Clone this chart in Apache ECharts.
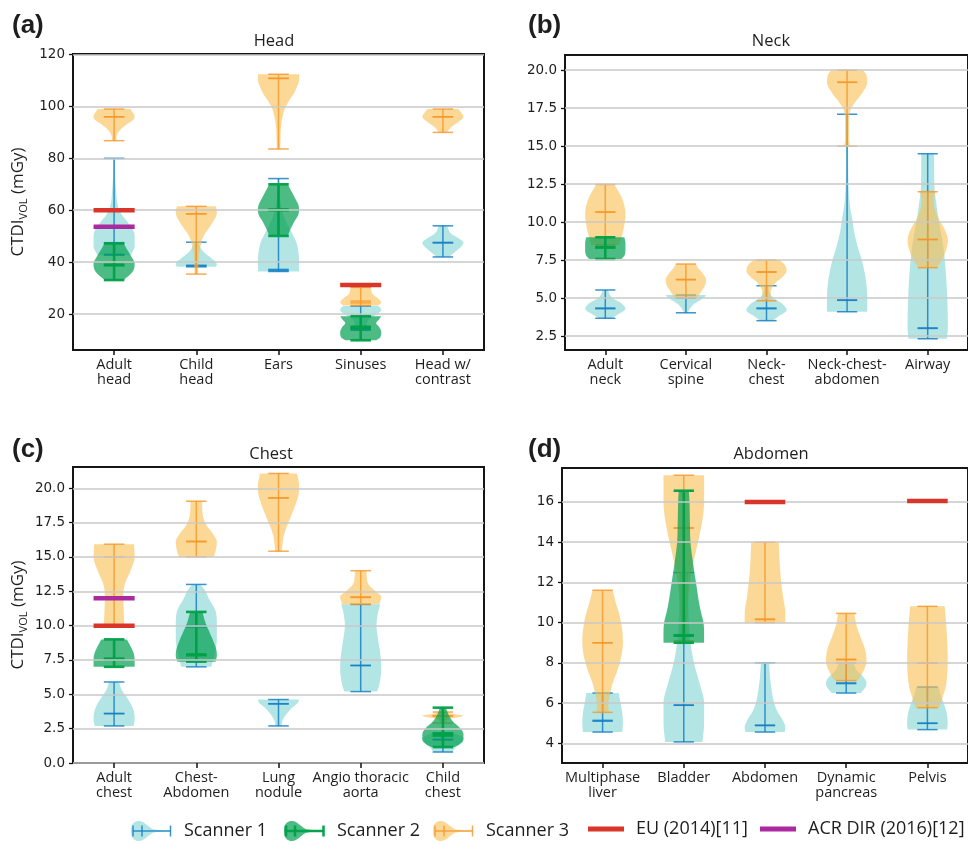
<!DOCTYPE html>
<html>
<head>
<meta charset="utf-8">
<script src="https://cdn.jsdelivr.net/npm/echarts@6/dist/echarts.min.js"></script>
<style>
  html, body { margin: 0; padding: 0; background: #ffffff; }
  #chart { width: 968px; height: 845px; }
</style>
</head>
<body>
<div id="chart"></div>
<script>
// ---------------- categories ----------------
const headCategories = ['Adult\nhead', 'Child\nhead', 'Ears', 'Sinuses', 'Head w/\ncontrast'];
const neckCategories = ['Adult\nneck', 'Cervical\nspine', 'Neck-\nchest', 'Neck-chest-\nabdomen', 'Airway'];
const chestCategories = ['Adult\nchest', 'Chest-\nAbdomen', 'Lung\nnodule', 'Angio thoracic\naorta', 'Child\nchest'];
const abdomenCategories = ['Multiphase\nliver', 'Bladder', 'Abdomen', 'Dynamic\npancreas', 'Pelvis'];

// ---------------- tick values ----------------
const headTicks = [20, 40, 60, 80, 100, 120];
const neckTicks = [2.5, 5, 7.5, 10, 12.5, 15, 17.5, 20];
const chestTicks = [0, 2.5, 5, 7.5, 10, 12.5, 15, 17.5, 20];
const abdomenTicks = [4, 6, 8, 10, 12, 14, 16];

// ---------------- violins ----------------
// each row: [category index, min, max, mean, median, density outline [value, relative half-width]]
const headScanner1 = [
  [0, 42.7, 80.0, 47.5, 43.0, [[42.7, 0.8], [44, 0.9], [46, 1], [49, 1], [52, 0.95], [55, 0.7], [58, 0.4], [60, 0.25], [63, 0.15], [67, 0.1], [72, 0.06], [80, 0.04]]],
  [1, 38.2, 47.7, 38.8, 38.5, [[38.2, 0.95], [39, 1], [40, 0.95], [42, 0.65], [44, 0.35], [46, 0.18], [47.7, 0.1]]],
  [2, 36.4, 72.2, 37.2, 36.8, [[36.4, 1], [40, 1], [45, 0.95], [48, 0.85], [52, 0.6], [55, 0.4], [58, 0.25], [62, 0.12], [66, 0.06], [72.2, 0.04]]],
  [3, 13.8, 23.1, 14.5, 14.0, [[13.8, 0.3], [16, 0.3], [18, 0.4], [20, 0.8], [21.5, 1], [22.5, 0.95], [23.1, 0.85]]],
  [4, 42.0, 54.0, 47.6, 47.4, [[42, 0.3], [44, 0.6], [46.5, 0.95], [47.5, 1], [49, 0.8], [51, 0.4], [54, 0.2]]]
];
const headScanner2 = [
  [0, 33.1, 47.2, 38.8, 39.0, [[33.1, 0.45], [35, 0.75], [37, 0.95], [39.5, 1], [42, 0.85], [44, 0.7], [46, 0.55], [47.2, 0.48]]],
  [2, 50.1, 70.0, 60.3, 60.0, [[50.1, 0.45], [53, 0.6], [56, 0.8], [58, 0.95], [60, 1], [62, 0.97], [64, 0.85], [67, 0.65], [70, 0.45]]],
  [3, 9.9, 19.2, 15.1, 14.8, [[9.9, 0.75], [11, 0.95], [13, 1], [15, 0.9], [16.5, 0.75], [18, 0.9], [19.2, 1]]]
];
const headScanner3 = [
  [0, 86.8, 99.0, 96.0, 96.0, [[86.8, 0.1], [89, 0.14], [91, 0.3], [93, 0.6], [95, 0.95], [96, 1], [97, 0.97], [98, 0.88], [99, 0.8]]],
  [1, 35.4, 61.5, 58.6, 58.6, [[35.4, 0.08], [38, 0.1], [42, 0.12], [46, 0.2], [50, 0.35], [53, 0.6], [56, 0.85], [59, 1], [61.5, 0.95]]],
  [2, 83.6, 112.4, 110.8, 110.8, [[83.6, 0.08], [88, 0.1], [92, 0.12], [96, 0.2], [99, 0.3], [102, 0.5], [105, 0.75], [108, 0.92], [110, 1], [112.4, 1]]],
  [3, 23.3, 30.3, 25.0, 24.3, [[23.3, 0.85], [24.5, 1], [26, 0.85], [27.5, 0.6], [29, 0.52], [30.3, 0.5]]],
  [4, 90.0, 99.0, 96.0, 96.0, [[90, 0.2], [92, 0.4], [94, 0.75], [96, 1], [97.5, 0.9], [99, 0.75]]]
];

const neckScanner1 = [
  [0, 3.67, 5.53, 4.34, 4.3, [[3.67, 0.3], [3.9, 0.6], [4.3, 1], [4.7, 0.75], [5.0, 0.35], [5.53, 0.12]]],
  [1, 4.03, 5.2, 5.0, 5.0, [[4.03, 0.1], [4.3, 0.2], [4.6, 0.4], [4.9, 0.75], [5.1, 0.95], [5.2, 1]]],
  [2, 3.51, 5.81, 4.34, 4.3, [[3.51, 0.3], [3.8, 0.6], [4.2, 1], [4.6, 0.8], [5.0, 0.35], [5.5, 0.12], [5.81, 0.1]]],
  [3, 4.1, 17.1, 4.87, 4.85, [[4.1, 1], [5, 1], [6, 0.95], [7, 0.82], [7.5, 0.73], [8.5, 0.5], [9.5, 0.33], [10, 0.28], [11, 0.15], [12.5, 0.07], [15, 0.05], [17.1, 0.05]]],
  [4, 2.32, 14.5, 3.03, 3.0, [[2.32, 0.95], [3, 1], [5, 0.97], [7.5, 0.85], [9, 0.7], [10, 0.56], [11, 0.45], [12.5, 0.33], [14.5, 0.32]]]
];
const neckScanner2 = [
  [0, 7.57, 9.0, 8.33, 8.35, [[7.57, 0.8], [7.8, 0.95], [8.2, 1], [8.6, 1], [9.0, 0.95]]]
];
const neckScanner3 = [
  [0, 8.5, 12.48, 10.66, 10.66, [[8.5, 0.7], [9.5, 0.9], [10.5, 1], [11.5, 0.85], [12.48, 0.45]]],
  [1, 5.02, 7.24, 6.23, 6.2, [[5.02, 0.55], [5.4, 0.75], [5.9, 0.97], [6.2, 1], [6.6, 0.85], [7.0, 0.6], [7.24, 0.5]]],
  [2, 4.82, 7.5, 6.73, 6.7, [[4.82, 0.25], [5.2, 0.2], [5.6, 0.25], [6.0, 0.45], [6.4, 0.8], [6.8, 1], [7.2, 0.9], [7.5, 0.65]]],
  [3, 15.0, 20.0, 19.21, 19.2, [[15, 0.15], [15.5, 0.1], [16.5, 0.1], [17.3, 0.15], [17.8, 0.35], [18.5, 0.75], [19.2, 1], [19.7, 0.95], [20, 0.8]]],
  [4, 7.0, 12.0, 8.86, 8.85, [[7.0, 0.45], [7.5, 0.7], [8.2, 0.92], [8.8, 1], [9.5, 0.85], [10.2, 0.55], [11, 0.33], [11.5, 0.3], [12, 0.4]]]
];

const chestScanner1 = [
  [0, 2.7, 5.9, 3.6, 3.6, [[2.7, 0.95], [3.2, 1], [3.7, 0.97], [4.2, 0.85], [4.7, 0.65], [5.2, 0.42], [5.6, 0.3], [5.9, 0.25]]],
  [1, 7.0, 13.0, 10.0, 9.9, [[7, 0.73], [8, 0.9], [9, 1], [10, 1], [11, 0.95], [12, 0.6], [12.5, 0.45], [13, 0.2]]],
  [2, 2.7, 4.62, 4.32, 4.3, [[2.7, 0.15], [3.1, 0.2], [3.5, 0.36], [4.0, 0.65], [4.4, 0.95], [4.62, 1]]],
  [3, 5.2, 11.55, 7.1, 7.1, [[5.2, 0.8], [5.8, 0.92], [7, 1], [8, 0.95], [9, 0.85], [10, 0.77], [11, 0.85], [11.55, 0.95]]],
  [4, 0.8, 2.2, 1.72, 1.68, [[0.8, 0.45], [1.1, 0.6], [1.5, 0.9], [1.8, 1], [2.0, 0.8], [2.2, 0.5]]]
];
const chestScanner2 = [
  [0, 7.0, 9.0, 7.6, 7.55, [[7, 1], [7.5, 1], [8, 0.95], [8.5, 0.8], [9, 0.62]]],
  [1, 7.38, 11.0, 7.9, 7.85, [[7.38, 0.93], [7.8, 1], [8.2, 0.98], [8.8, 0.85], [9.5, 0.65], [10.2, 0.45], [11, 0.3]]],
  [4, 1.16, 4.03, 2.14, 2.0, [[1.16, 0.55], [1.3, 0.75], [1.7, 1], [2.1, 1], [2.6, 0.8], [3.0, 0.5], [3.5, 0.28], [4.03, 0.15]]]
];
const chestScanner3 = [
  [0, 10.0, 15.93, 12.0, 15.0, [[10, 0.5], [11, 0.47], [12, 0.45], [13, 0.52], [14, 0.8], [15, 1], [15.93, 0.97]]],
  [1, 15.0, 19.06, 16.15, 16.1, [[15, 0.85], [15.5, 0.95], [16.1, 1], [16.7, 0.8], [17.3, 0.5], [18, 0.32], [19.06, 0.28]]],
  [2, 15.42, 21.08, 19.3, 19.3, [[15.42, 0.16], [16, 0.2], [16.5, 0.25], [17, 0.35], [17.5, 0.48], [18.5, 0.75], [19.5, 0.97], [20.2, 1], [21.08, 0.9]]],
  [3, 11.55, 14.0, 12.09, 12.05, [[11.55, 0.9], [12.1, 1], [12.5, 0.72], [13, 0.38], [13.5, 0.3], [14, 0.28]]],
  [4, 2.91, 3.71, 3.4, 3.45, [[2.91, 0.12], [3.2, 0.3], [3.35, 0.8], [3.45, 1], [3.55, 0.6], [3.71, 0.2]]]
];

const abdomenScanner1 = [
  [0, 4.56, 6.5, 5.14, 5.1, [[4.56, 0.97], [5.0, 1], [5.5, 0.97], [6.0, 0.88], [6.5, 0.8]]],
  [1, 4.07, 12.49, 5.89, 5.9, [[4.07, 0.92], [5, 1], [6, 1], [7, 0.77], [8, 0.5], [9, 0.33], [10, 0.25], [11, 0.22], [12.49, 0.22]]],
  [2, 4.56, 8.0, 4.9, 4.88, [[4.56, 0.97], [4.8, 1], [5.2, 0.85], [5.6, 0.6], [6, 0.45], [7, 0.28], [8, 0.2]]],
  [3, 6.5, 8.0, 6.97, 7.0, [[6.5, 0.72], [6.8, 0.95], [7.0, 1], [7.3, 0.85], [7.6, 0.55], [8, 0.35]]],
  [4, 4.68, 6.8, 4.99, 5.0, [[4.68, 0.97], [5.0, 1], [5.5, 0.95], [6, 0.8], [6.4, 0.65], [6.8, 0.55]]]
];
const abdomenScanner2 = [
  [1, 9.0, 16.56, 9.37, 9.35, [[9.0, 1], [9.5, 1], [10, 0.97], [10.5, 0.85], [11, 0.75], [12, 0.6], [13, 0.45], [14, 0.33], [15, 0.3], [16, 0.28], [16.56, 0.25]]]
];
const abdomenScanner3 = [
  [0, 5.54, 11.61, 9.0, 9.0, [[5.54, 0.3], [6, 0.28], [6.5, 0.38], [7, 0.5], [7.6, 0.72], [8.3, 0.92], [9, 1], [9.6, 0.97], [10.3, 0.85], [11, 0.65], [11.61, 0.5]]],
  [1, 9.1, 17.33, 14.71, 14.7, [[9.1, 0.15], [10, 0.15], [11, 0.2], [12, 0.3], [12.8, 0.43], [14, 0.7], [15, 0.9], [16, 1], [17.33, 1]]],
  [2, 10.0, 14.0, 10.18, 10.15, [[10, 1], [10.5, 1], [11.2, 0.9], [12, 0.8], [13, 0.72], [14, 0.68]]],
  [3, 7.12, 10.46, 8.18, 8.15, [[7.12, 0.57], [7.5, 0.8], [8.1, 1], [8.7, 0.92], [9.3, 0.7], [9.9, 0.5], [10.46, 0.4]]],
  [4, 5.77, 10.81, 7.98, 8.0, [[5.77, 0.58], [6.2, 0.72], [6.8, 0.9], [7.5, 0.98], [8.3, 1], [9.2, 0.97], [10, 0.92], [10.81, 0.85]]]
];

// ---------------- reference levels: [category index, CTDIvol] ----------------
const headEU = [[0, 60], [3, 31.2]];
const headACR = [[0, 53.6]];
const chestEU = [[0, 10]];
const chestACR = [[0, 12]];
const abdomenEU = [[2, 16], [4, 16.05]];

// ---------------- styling ----------------
const scannerNames = ['Scanner 1', 'Scanner 2', 'Scanner 3'];
const scannerStyles = [
  { fill: 'rgba(64,191,191,0.4)', line: 'rgba(22,128,196,0.85)', width: 1.5 },
  { fill: 'rgba(0,160,80,0.7)', line: 'rgba(0,160,72,0.95)', width: 2.6 },
  { fill: 'rgba(250,190,80,0.6)', line: 'rgba(245,150,40,0.8)', width: 1.5 }
];
const euName = 'EU (2014)[11]';
const acrName = 'ACR DIR (2016)[12]';
const euColor = '#d9352a';
const acrColor = '#ab2aa0';
const textColor = '#1e1e1e';
const uiFont = 'Open Sans';

// monotone cubic resampling of a violin outline
function sampleShape(shape, steps) {
  const n = shape.length;
  const xs = shape.map(p => p[0]);
  const ys = shape.map(p => p[1]);
  if (n < 2) return shape.slice();
  const d = [];
  for (let i = 0; i < n - 1; i++) d.push((ys[i + 1] - ys[i]) / (xs[i + 1] - xs[i]));
  const m = new Array(n);
  m[0] = d[0];
  m[n - 1] = d[n - 2];
  for (let i = 1; i < n - 1; i++) m[i] = d[i - 1] * d[i] <= 0 ? 0 : (d[i - 1] + d[i]) / 2;
  for (let i = 0; i < n - 1; i++) {
    if (d[i] === 0) { m[i] = 0; m[i + 1] = 0; continue; }
    const a = m[i] / d[i], b = m[i + 1] / d[i];
    const s = a * a + b * b;
    if (s > 9) { const t = 3 / Math.sqrt(s); m[i] = t * a * d[i]; m[i + 1] = t * b * d[i]; }
  }
  const out = [];
  for (let i = 0; i < n - 1; i++) {
    const h = xs[i + 1] - xs[i];
    for (let k = 0; k < steps; k++) {
      const t = k / steps, t2 = t * t, t3 = t2 * t;
      const y = (2 * t3 - 3 * t2 + 1) * ys[i] + (t3 - 2 * t2 + t) * h * m[i] +
                (-2 * t3 + 3 * t2) * ys[i + 1] + (t3 - t2) * h * m[i + 1];
      out.push([xs[i] + t * h, Math.max(0.02, y)]);
    }
  }
  out.push([xs[n - 1], ys[n - 1]]);
  return out;
}

function violinRenderer(records, style) {
  return function (params, api) {
    const rec = records[params.dataIndex];
    const cat = api.value(0);
    const cx = api.coord([cat, rec[1]])[0];
    const band = api.size([1, 0])[0];
    const half = band * 0.25;
    const capHalf = band * 0.125;
    const yOf = v => api.coord([cat, v])[1];
    const curve = sampleShape(rec[5], 8);
    const pts = [];
    for (let i = 0; i < curve.length; i++) pts.push([cx + curve[i][1] * half, yOf(curve[i][0])]);
    for (let i = curve.length - 1; i >= 0; i--) pts.push([cx - curve[i][1] * half, yOf(curve[i][0])]);
    const lineStyle = { stroke: style.line, lineWidth: style.width, fill: null };
    const seg = (x1, y1, x2, y2) => ({ type: 'line', shape: { x1, y1, x2, y2 }, style: lineStyle });
    const children = [{ type: 'polygon', shape: { points: pts }, style: { fill: style.fill } }];
    children.push(seg(cx, yOf(api.value(1)), cx, yOf(api.value(2))));
    [1, 2, 3, 4].forEach(k => {
      const y = yOf(api.value(k));
      children.push(seg(cx - capHalf, y, cx + capHalf, y));
    });
    return { type: 'group', children };
  };
}

function levelRenderer(color) {
  return function (params, api) {
    const c = api.coord([api.value(0), api.value(1)]);
    const band = api.size([1, 0])[0];
    return {
      type: 'line',
      shape: { x1: c[0] - band * 0.25, y1: c[1], x2: c[0] + band * 0.25, y2: c[1] },
      style: { stroke: color, lineWidth: 4.5 }
    };
  };
}

function violinSeries(gi, scannerIdx, records) {
  return {
    type: 'custom',
    name: scannerNames[scannerIdx],
    xAxisIndex: gi, yAxisIndex: gi,
    z: 2, silent: true, clip: false,
    itemStyle: { color: scannerStyles[scannerIdx].fill },
    encode: { x: 0, y: [1, 2] },
    data: records.map(r => [r[0], r[1], r[2], r[3], r[4]]),
    renderItem: violinRenderer(records, scannerStyles[scannerIdx])
  };
}

function levelSeries(gi, name, color, records) {
  return {
    type: 'custom', name, xAxisIndex: gi, yAxisIndex: gi,
    z: 4, silent: true, itemStyle: { color },
    encode: { x: 0, y: 1 },
    data: records,
    renderItem: levelRenderer(color)
  };
}

function categoryAxis(gi, cats) {
  return {
    type: 'category', gridIndex: gi, data: cats, z: 3,
    axisLine: { show: false },
    axisTick: { show: true, alignWithLabel: true, length: 5, lineStyle: { color: '#111', width: 1.5 } },
    axisLabel: { interval: 0, margin: 7, color: textColor, fontFamily: uiFont, fontSize: 14.5, lineHeight: 15.5 },
    splitLine: { show: false }
  };
}

function valueAxis(gi, min, max, ticks, digits, named) {
  return {
    type: 'value', gridIndex: gi, min, max, z: 3,
    axisLine: { show: false },
    axisTick: { show: true, length: 4, customValues: ticks, lineStyle: { color: '#111', width: 1.3 } },
    axisLabel: {
      customValues: ticks, margin: 8, color: textColor,
      fontFamily: 'DejaVu Sans', fontSize: 13.5,
      formatter: v => Number(v).toFixed(digits)
    },
    splitLine: { show: true, lineStyle: { color: '#c8c8c8', width: 1.5 } },
    name: named ? '{a|CTDI}{b|VOL}{a| (mGy)}' : '',
    nameLocation: 'middle', nameRotate: 90, nameGap: 44,
    nameTextStyle: {
      rich: {
        a: { fontFamily: uiFont, fontSize: 17, lineHeight: 22, color: textColor },
        b: { fontFamily: uiFont, fontSize: 11, lineHeight: 11, verticalAlign: 'bottom', color: textColor }
      }
    }
  };
}

function violinIcon(s) {
  const svg =
    '<svg xmlns="http://www.w3.org/2000/svg" width="42" height="22" viewBox="0 0 42 22">' +
    '<path d="M1,11 C1,3 5,1 9,1 C14,1 17,6 23,9.3 C28,10.3 34,10.3 41,10.4 L41,11.6 C34,11.7 28,11.7 23,12.7 C17,16 14,21 9,21 C5,21 1,19 1,11 Z" fill="' + s.fill + '"/>' +
    '<g stroke="' + s.line + '" stroke-width="' + s.width + '" fill="none">' +
    '<line x1="3" y1="11" x2="40.5" y2="11"/><line x1="3" y1="5.5" x2="3" y2="16.5"/>' +
    '<line x1="40.5" y1="5.5" x2="40.5" y2="16.5"/><line x1="12" y1="5.5" x2="12" y2="16.5"/></g></svg>';
  return 'image://data:image/svg+xml;charset=utf-8,' + encodeURIComponent(svg);
}

function legendItem(left, top, entry, w, h) {
  return {
    left, top, data: [entry], itemWidth: w, itemHeight: h,
    selectedMode: false, padding: 0,
    textStyle: { fontFamily: uiFont, fontSize: 18, color: textColor, padding: [0, 0, 0, 7] }
  };
}

function panelLetter(text, left, top) {
  return { text, left, top, padding: 0,
    textStyle: { fontFamily: 'Liberation Sans', fontWeight: 'bold', fontSize: 26, color: textColor } };
}
function panelTitle(text, left, top) {
  return { text, left, top, padding: 0, textAlign: 'center',
    textStyle: { fontFamily: uiFont, fontWeight: 'normal', fontSize: 16.5, color: textColor } };
}

const gridStyle = { show: true, borderColor: '#151515', borderWidth: 2, backgroundColor: 'transparent' };

const option = {
  animation: false,
  backgroundColor: '#ffffff',
  title: [
    panelLetter('(a)', 12, 13), panelTitle('Head', 274, 33),
    panelLetter('(b)', 528, 13), panelTitle('Neck', 771, 33),
    panelLetter('(c)', 12, 437), panelTitle('Chest', 271, 446),
    panelLetter('(d)', 528, 437), panelTitle('Abdomen', 771, 446)
  ],
  grid: [
    Object.assign({ left: 73, top: 54, width: 411, height: 296 }, gridStyle),
    Object.assign({ left: 565, top: 55, width: 411, height: 295 }, gridStyle),
    Object.assign({ left: 73, top: 467, width: 411, height: 296 }, gridStyle),
    Object.assign({ left: 562, top: 468, width: 411, height: 295 }, gridStyle)
  ],
  xAxis: [
    categoryAxis(0, headCategories),
    categoryAxis(1, neckCategories),
    categoryAxis(2, chestCategories),
    categoryAxis(3, abdomenCategories)
  ],
  yAxis: [
    valueAxis(0, 6.15, 120.2, headTicks, 0, true),
    valueAxis(1, 1.58, 21.0, neckTicks, 1, false),
    valueAxis(2, 0, 21.55, chestTicks, 1, true),
    valueAxis(3, 3.02, 17.69, abdomenTicks, 0, false)
  ],
  legend: [
    legendItem(130, 820, { name: 'Scanner 1', icon: violinIcon(scannerStyles[0]) }, 42, 22),
    legendItem(283, 820, { name: 'Scanner 2', icon: violinIcon(scannerStyles[1]) }, 42, 22),
    legendItem(432, 820, { name: 'Scanner 3', icon: violinIcon(scannerStyles[2]) }, 42, 22),
    legendItem(588, 820, { name: euName, icon: 'rect', itemStyle: { color: euColor } }, 36, 5),
    legendItem(760, 820, { name: acrName, icon: 'rect', itemStyle: { color: acrColor } }, 36, 5)
  ],
  series: [
    violinSeries(0, 0, headScanner1), violinSeries(0, 2, headScanner3), violinSeries(0, 1, headScanner2),
    levelSeries(0, euName, euColor, headEU), levelSeries(0, acrName, acrColor, headACR),

    violinSeries(1, 0, neckScanner1), violinSeries(1, 2, neckScanner3), violinSeries(1, 1, neckScanner2),

    violinSeries(2, 0, chestScanner1), violinSeries(2, 2, chestScanner3), violinSeries(2, 1, chestScanner2),
    levelSeries(2, euName, euColor, chestEU), levelSeries(2, acrName, acrColor, chestACR),

    violinSeries(3, 0, abdomenScanner1), violinSeries(3, 2, abdomenScanner3), violinSeries(3, 1, abdomenScanner2),
    levelSeries(3, euName, euColor, abdomenEU)
  ]
};

const chart = echarts.init(document.getElementById('chart'), null, { renderer: 'canvas' });
chart.setOption(option);
</script>
</body>
</html>
